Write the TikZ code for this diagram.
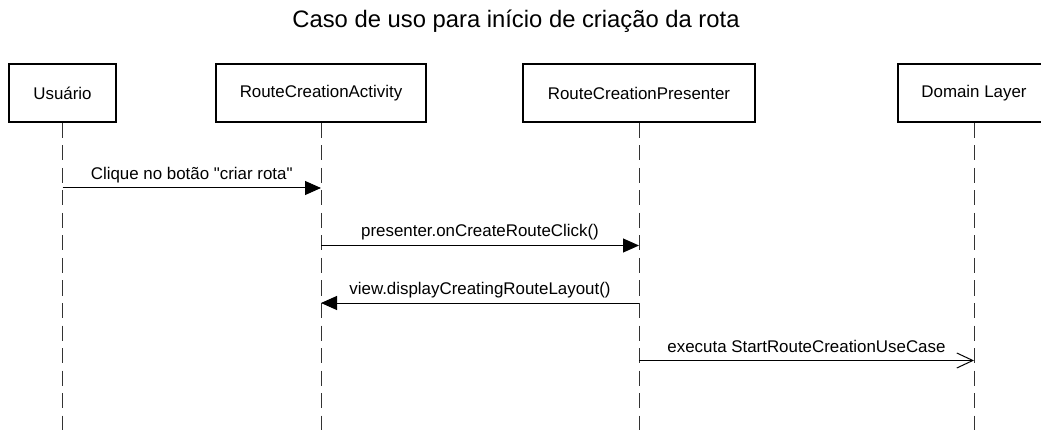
\documentclass[tikz,border=0pt]{standalone}
\usepackage{fontspec}
\setmainfont{Liberation Sans}[Ligatures=TeXOff]
\usetikzlibrary{arrows.meta,calc}
\begin{document}
\begin{tikzpicture}[x=1pt,y=-1pt,
  actor/.style={draw=black,line width=2pt,minimum height=58pt,inner sep=0pt,
    font=\fontsize{16.9}{20}\selectfont},
  lifeline/.style={draw=black!80,line width=1pt,dash pattern=on 15pt off 7.5pt},
  msg/.style={draw=black,line width=1pt},
  sync/.style={msg,-{Triangle[length=16pt,width=14pt]}},
  async/.style={msg,-{Straight Barb[length=16pt,width=15pt,line width=1pt]}},
  msglabel/.style={anchor=base,inner sep=0pt,font=\fontsize{16.9}{20}\selectfont}]
\useasboundingbox (0,0) rectangle (1041,430);
\fill[white] (0,0) rectangle (1041,430);

% title
\node[anchor=base,inner sep=0pt,font=\fontsize{23.8}{28}\selectfont] (title) at (516,28)
  {Caso de uso para início de criação da rota};

% participants
\node[actor,minimum width=107pt] (u) at (62.5,93) {Usuário};
\node[actor,minimum width=210pt] (a) at (321,93) {RouteCreationActivity};
\node[actor,minimum width=232pt] (p) at (639,93) {RouteCreationPresenter};
\node[actor,minimum width=152pt] (d) at (974,93) {Domain Layer};

% lifelines
\coordinate (ue) at (u.south |- 0,430);
\coordinate (ae) at (a.south |- 0,430);
\coordinate (pe) at (p.south |- 0,430);
\coordinate (de) at (d.south |- 0,430);
\draw[lifeline] (u.south) -- (ue);
\draw[lifeline] (a.south) -- (ae);
\draw[lifeline] (p.south) -- (pe);
\draw[lifeline] (d.south) -- (de);

% message end points on the lifelines
\coordinate (m1a) at (u.south |- 0,188);
\coordinate (m1b) at (a.south |- 0,188);
\coordinate (m2a) at (a.south |- 0,245.5);
\coordinate (m2b) at (p.south |- 0,245.5);
\coordinate (m3a) at (p.south |- 0,303);
\coordinate (m3b) at (a.south |- 0,303);
\coordinate (m4a) at (p.south |- 0,360.5);
\coordinate (m4b) at (d.south |- 0,360.5);

% messages
\draw[sync] (m1a) -- (m1b);
\node[msglabel] (l1) at ($(m1a)!0.5!(m1b)+(0,-8.5)$) {Clique no botão "criar rota"};
\draw[sync] (m2a) -- (m2b);
\node[msglabel] (l2) at ($(m2a)!0.5!(m2b)+(0,-8.5)$) {presenter.onCreateRouteClick()};
\draw[sync] (m3a) -- (m3b);
\node[msglabel] (l3) at ($(m3a)!0.5!(m3b)+(0,-8.5)$) {view.displayCreatingRouteLayout()};
\draw[async] (m4a) -- (m4b);
\node[msglabel] (l4) at ($(m4a)!0.5!(m4b)+(0,-8.5)$) {executa StartRouteCreationUseCase};
\end{tikzpicture}
\end{document}
